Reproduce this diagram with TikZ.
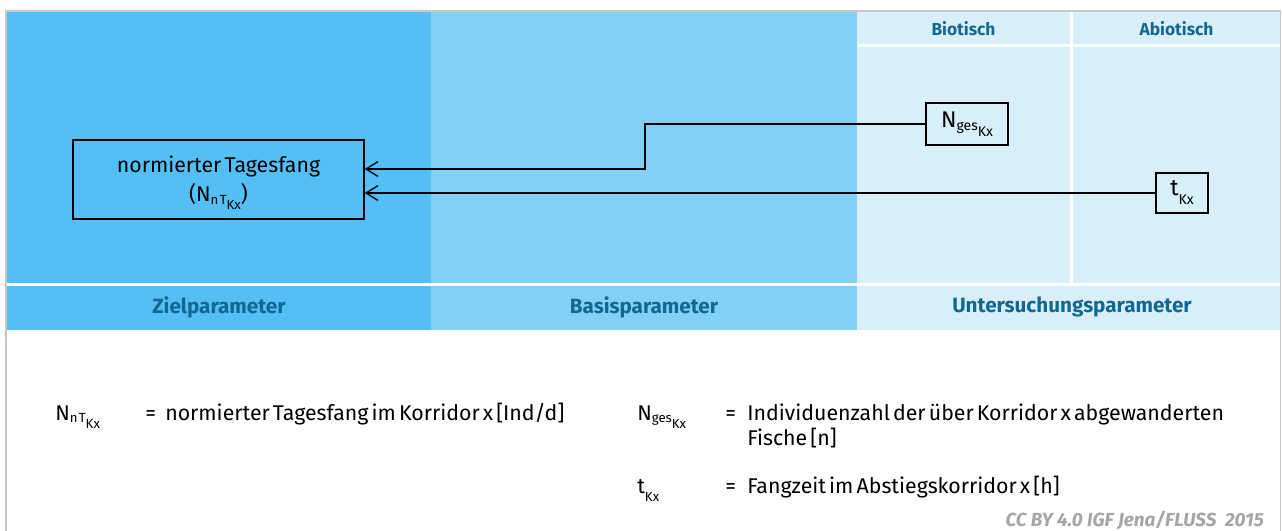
\documentclass[tikz,border=0pt]{standalone}
\usepackage{graphicx}
\usepackage{fontspec}
\setmainfont{Fira Sans}[WordSpace=0.55]
\newfontfamily\creditfont{Fira Sans}
\usetikzlibrary{arrows.meta}

\definecolor{zielblue}{RGB}{83,191,245}
\definecolor{basisblue}{RGB}{131,208,245}
\definecolor{untersblue}{RGB}{216,239,250}
\definecolor{labelteal}{RGB}{18,104,146}
\definecolor{framegray}{RGB}{200,200,200}
\definecolor{notegray}{RGB}{165,165,165}

% first- and second-level subscripts, both at the same reduced size
\newcommand\subA[1]{\raisebox{-0.14em}{\scalebox{0.62}{#1}}}
\newcommand\subB[1]{\raisebox{-0.40em}{\scalebox{0.62}{#1}}}
\newcommand\symNnT{N\subA{n\kern0.1em T}\subB{Kx}}
\newcommand\symNges{N\subA{ges}\subB{Kx}}
\newcommand\symtK{t\subB{Kx}}

\tikzset{
  collabel/.style={font=\fontsize{15.5}{18}\selectfont\bfseries, text=labelteal, inner sep=0pt},
  sublabel/.style={font=\fontsize{13}{15}\selectfont\bfseries, text=labelteal, inner sep=0pt},
  parambox/.style={draw=black, line width=1pt, inner sep=0pt, align=center},
  conn/.style={draw=black, line width=1pt, -{Straight Barb[length=9pt,width=11pt,line width=1pt]}},
  legendtxt/.style={font=\fontsize{16}{18.75}\selectfont, inner sep=0pt, anchor=base west},
}

\begin{document}
\begin{tikzpicture}[x=0.75pt,y=-0.75pt]
\useasboundingbox (0,0) rectangle (1282,531);
\fill[white] (0,0) rectangle (1282,531);

% outer frame
\draw[framegray, line width=1.7pt] (6,531) -- (6,11) -- (1281,11);
\draw[framegray, line width=0.8pt] (1280.5,11) -- (1280.5,531);

% column panels
\fill[zielblue]   (7,12)   rectangle (431,330);
\fill[basisblue]  (431,12) rectangle (857,330);
\fill[untersblue] (857,12) rectangle (1280,330);

% white separators
\fill[white] (7,282.5)  rectangle (1280,285.5);
\fill[white] (858,44.5) rectangle (1280,47.5);
\fill[white] (1070,12)  rectangle (1073,283);

% column titles
\node[collabel] (lziel)  at (219,307)  {Zielparameter};
\node[collabel] (lbasis) at (644,307)  {Basisparameter};
\node[collabel] (lunter) at (1072,307) {Untersuchungsparameter};
\node[sublabel] (lbio)   at (963.5,29) {Biotisch};
\node[sublabel] (labio)  at (1176.5,29) {Abiotisch};

% parameter boxes (the target box carries its two text lines in a separate node)
\node[parambox, minimum width=218.25pt, minimum height=59.25pt] (ziel) at (218.5,179.5) {};
\node[align=center, inner sep=0pt, font=\fontsize{16}{21.75}\selectfont]
      (zieltext) at (218.5,182.5) {normierter Tagesfang\\(\symNnT)};
\node[parambox, minimum width=61.5pt, minimum height=31.5pt,
      font=\fontsize{17}{20}\selectfont] (nges) at (967,124) {\symNges};
\node[parambox, minimum width=39pt, minimum height=30pt,
      font=\fontsize{17}{20}\selectfont] (tkx) at (1182,193) {\symtK};

% connectors
\coordinate (bend) at (645,169);
\draw[conn] (nges.west) -| (bend) -- (ziel.east |- bend);
\draw[conn] (tkx.west) -- (ziel.east |- tkx.west);

% legend
\node[legendtxt] (s1)  at (55,420)  {\symNnT};
\node[legendtxt] (q1)  at (145,420) {=};
\node[legendtxt] (d1)  at (165,420) {normierter Tagesfang im Korridor x [Ind/d]};

\node[legendtxt] (s2)  at (637,420) {\symNges};
\node[legendtxt] (q2)  at (725,420) {=};
\node[legendtxt] (d2)  at (747,420) {Individuenzahl der über Korridor x abgewanderten};
\node[legendtxt] (d2b) at (747,445) {Fische [n]};

\node[legendtxt] (s3)  at (637,493) {\symtK};
\node[legendtxt] (q3)  at (725,493) {=};
\node[legendtxt] (d3)  at (747,493) {Fangzeit im Abstiegskorridor x [h]};

% credit line
\node[font=\creditfont\fontsize{14.2}{16}\selectfont\bfseries\itshape, text=notegray,
      inner sep=0pt, anchor=base east] (credit) at (1264,526)
      {CC BY 4.0 IGF Jena/FLUSS\ \ 2015};
\end{tikzpicture}
\end{document}
